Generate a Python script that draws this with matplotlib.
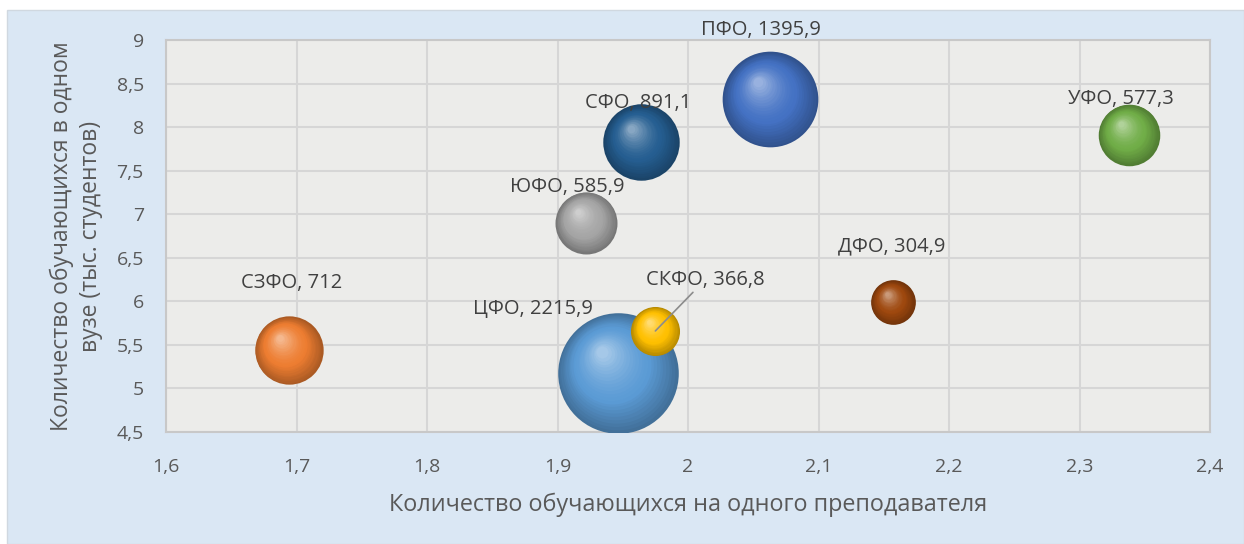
import matplotlib.pyplot as plt
import matplotlib.transforms as mtransforms
from matplotlib.patches import Rectangle
from matplotlib.colors import to_rgb
import numpy as np

plt.rcParams['font.family'] = ['Open Sans', 'DejaVu Sans']

regions = ['ЦФО', 'СЗФО', 'ЮФО', 'СКФО', 'ПФО', 'УФО', 'СФО', 'ДФО']
students_per_teacher = [1.946, 1.694, 1.922, 1.975, 2.063, 2.338, 1.964, 2.157]
students_per_uni = [5.18, 5.44, 6.90, 5.66, 8.32, 7.91, 7.83, 5.99]
total_students = [2215.9, 712, 585.9, 366.8, 1395.9, 577.3, 891.1, 304.9]
value_labels = ['2215,9', '712', '585,9', '366,8', '1395,9', '577,3', '891,1', '304,9']

colors = ['#5B9BD5', '#ED7D31', '#A5A5A5', '#FFC000', '#4472C4', '#70AD47', '#255E91', '#9E480E']
# label offsets in points relative to bubble centre
label_offsets = [(-61, 46), (2, 48), (-14, 26), (36, 37), (-7, 50), (-6, 26), (-2, 28), (-1, 40)]

x_ticks = [1.6, 1.7, 1.8, 1.9, 2.0, 2.1, 2.2, 2.3, 2.4]
y_ticks = [4.5, 5, 5.5, 6, 6.5, 7, 7.5, 8, 8.5, 9]

size_scale = 3.4
text_color = '#595959'


def mix(c, other, t):
    c = np.array(to_rgb(c))
    o = np.array(to_rgb(other))
    return tuple(c * (1 - t) + o * t)


fig = plt.figure(figsize=(12.44, 5.44), dpi=100)
fig.patch.set_facecolor('white')
bg = Rectangle((7 / 1244, 0), 1 - 7 / 1244, 534 / 544, transform=fig.transFigure,
               facecolor='#dae7f4', edgecolor='#d0d8e0', lw=1, zorder=-10)
fig.add_artist(bg)

ax = fig.add_axes([166 / 1244, 112 / 544, (1210 - 166) / 1244, 392 / 544])
ax.set_facecolor('#ececea')
ax.set_xlim(1.6, 2.4)
ax.set_ylim(4.5, 9)
ax.set_xticks(x_ticks)
ax.set_yticks(y_ticks)
ax.set_xticklabels([f'{v:g}'.replace('.', ',') for v in x_ticks])
ax.set_yticklabels([f'{v:g}'.replace('.', ',') for v in y_ticks])
ax.tick_params(length=0, labelsize=14, colors=text_color)
ax.tick_params(axis='x', pad=19)
ax.tick_params(axis='y', pad=16)
ax.grid(True, color='#d6d6d6', lw=1.5)
ax.set_axisbelow(True)
for sp in ax.spines.values():
    sp.set_color('#c8c8c8')
    sp.set_linewidth(1.5)

n_layers = 24
for i, name in enumerate(regions):
    s = total_students[i] * size_scale
    R = np.sqrt(s) / 2
    dark = mix(colors[i], 'black', 0.28)
    light = mix(colors[i], 'white', 0.45)
    for k in range(n_layers):
        t = k / (n_layers - 1)
        f = 1 - 0.9 * t
        tr = mtransforms.offset_copy(ax.transData, fig=fig, x=-0.25 * R * t, y=0.35 * R * t, units='points')
        if t < 0.4:
            c = mix(dark, colors[i], t / 0.4)
        else:
            c = mix(colors[i], light, ((t - 0.4) / 0.6) ** 1.5)
        ax.scatter([students_per_teacher[i]], [students_per_uni[i]], s=s * f ** 2, color=c,
                   transform=tr, zorder=3 + i + t * 0.5, linewidths=0)

    dx, dy = label_offsets[i]
    arrow = None
    if name == 'СКФО':
        arrow = dict(arrowstyle='-', color='#8c8c8c', lw=1.2, shrinkA=0, shrinkB=0)
    ax.annotate(f'{name}, {value_labels[i]}', (students_per_teacher[i], students_per_uni[i]),
                xytext=(dx, dy), textcoords='offset points', ha='center', va='center',
                fontsize=14.5, color='#404040', zorder=20, arrowprops=arrow,
                annotation_clip=False)

ax.set_xlabel('Количество обучающихся на одного преподавателя', fontsize=16.8, color=text_color, labelpad=12)
ax.set_ylabel('Количество обучающихся в одном\nвузе (тыс. студентов)', fontsize=16.5, color=text_color,
              labelpad=10, linespacing=1.25)

fig.savefig('out.png', dpi=100, facecolor=fig.get_facecolor())
